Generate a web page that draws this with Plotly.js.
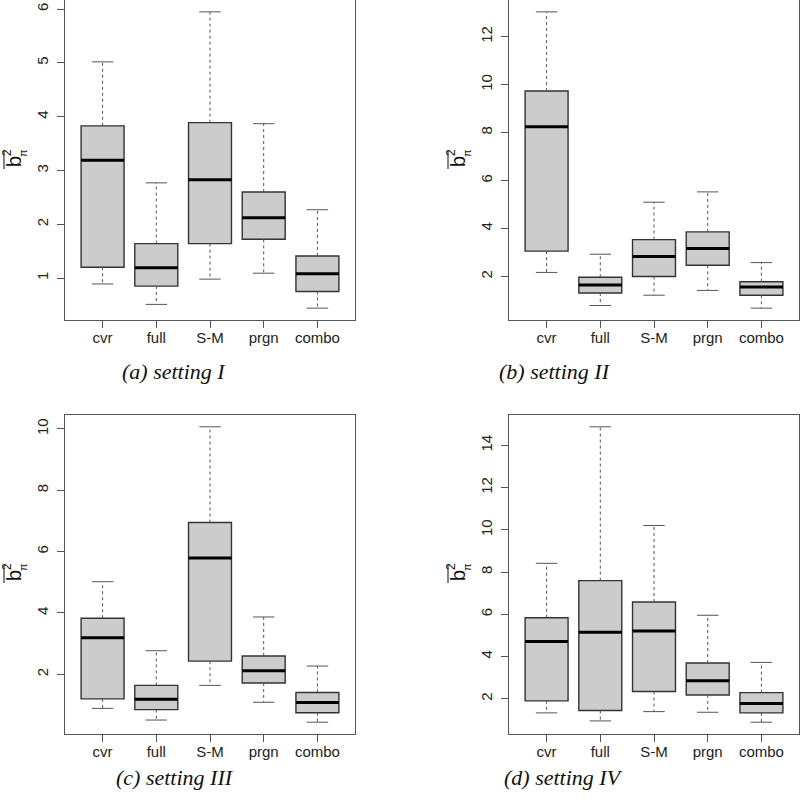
<!DOCTYPE html>
<html>
<head>
<meta charset="utf-8">
<script src="https://cdn.plot.ly/plotly-3.0.1.min.js"></script>
<style>html,body{margin:0;padding:0;background:#fff;}#chart{width:800px;height:809px;}</style>
</head>
<body>
<div id="chart"></div>
<script>
// ---- data ----
const categories = ['cvr', 'full', 'S-M', 'prgn', 'combo'];
const captions = ['(a) setting I', '(b) setting II', '(c) setting III', '(d) setting IV'];

const setI_lower  = [0.89, 0.51, 0.98, 1.09, 0.44];
const setI_q1     = [1.20, 0.85, 1.64, 1.72, 0.75];
const setI_median = [3.19, 1.19, 2.83, 2.12, 1.08];
const setI_q3     = [3.83, 1.64, 3.89, 2.60, 1.41];
const setI_upper  = [5.02, 2.77, 5.95, 3.87, 2.27];

const setII_lower  = [2.17, 0.79, 1.22, 1.42, 0.68];
const setII_q1     = [3.06, 1.31, 2.00, 2.47, 1.22];
const setII_median = [8.25, 1.65, 2.83, 3.17, 1.56];
const setII_q3     = [9.74, 1.97, 3.54, 3.86, 1.78];
const setII_upper  = [13.04, 2.93, 5.10, 5.53, 2.58];

const setIII_lower  = [0.89, 0.51, 1.64, 1.09, 0.44];
const setIII_q1     = [1.20, 0.85, 2.43, 1.72, 0.75];
const setIII_median = [3.19, 1.19, 5.79, 2.12, 1.08];
const setIII_q3     = [3.83, 1.64, 6.95, 2.60, 1.41];
const setIII_upper  = [5.02, 2.77, 10.07, 3.87, 2.27];

const setIV_lower  = [1.34, 0.96, 1.40, 1.37, 0.90];
const setIV_q1     = [1.91, 1.45, 2.35, 2.19, 1.34];
const setIV_median = [4.72, 5.16, 5.22, 2.86, 1.78];
const setIV_q3     = [5.84, 7.60, 6.59, 3.70, 2.30];
const setIV_upper  = [8.42, 14.88, 10.21, 5.96, 3.73];

const tickValsI   = [1, 2, 3, 4, 5, 6];
const tickValsII  = [2, 4, 6, 8, 10, 12];
const tickValsIII = [2, 4, 6, 8, 10];
const tickValsIV  = [2, 4, 6, 8, 10, 12, 14];

// ---- layout helpers ----
const W = 800, H = 809;
const px = v => v / W;
const py = v => 1 - v / H;

const panels = [
  {lower: setI_lower, q1: setI_q1, med: setI_median, q3: setI_q3, upper: setI_upper, ticks: tickValsI,
   box: [65, 355, 0, 320], cap: [174, 371], lab: [0, 161]},
  {lower: setII_lower, q1: setII_q1, med: setII_median, q3: setII_q3, upper: setII_upper, ticks: tickValsII,
   box: [509, 799, 0, 320], cap: [555, 371], lab: [444, 161]},
  {lower: setIII_lower, q1: setIII_q1, med: setIII_median, q3: setIII_q3, upper: setIII_upper, ticks: tickValsIII,
   box: [65, 355, 415, 734], cap: [175, 777], lab: [0, 575]},
  {lower: setIV_lower, q1: setIV_q1, med: setIV_median, q3: setIV_q3, upper: setIV_upper, ticks: tickValsIV,
   box: [509, 799, 415, 734], cap: [563, 777], lab: [444, 575]}
];

const pos = categories.map((c, i) => i + 1);
const boxW = 0.8, capW = 0.4;
const traces = [];
const layout = {
  width: W, height: H,
  margin: {l: 0, r: 0, t: 0, b: 0},
  paper_bgcolor: '#ffffff', plot_bgcolor: '#ffffff',
  showlegend: false,
  font: {family: 'Liberation Sans, Arial, sans-serif', size: 15, color: '#222'},
  annotations: [], shapes: []
};

panels.forEach((p, k) => {
  const n = k === 0 ? '' : String(k + 1);
  const xa = 'x' + n, ya = 'y' + n;
  // box body (no whiskers; R-style whiskers drawn below)
  traces.push({
    type: 'box', xaxis: xa, yaxis: ya, x: pos,
    q1: p.q1, median: p.med, q3: p.q3, lowerfence: p.q1, upperfence: p.q3,
    width: boxW, whiskerwidth: 0, boxpoints: false,
    fillcolor: '#cccccc', line: {color: '#333', width: 1.4}, hoverinfo: 'skip'
  });
  // dashed whiskers
  const wx = [], wy = [];
  pos.forEach((x, i) => {
    wx.push(x, x, null, x, x, null);
    wy.push(p.q3[i], p.upper[i], null, p.q1[i], p.lower[i], null);
  });
  traces.push({type: 'scatter', mode: 'lines', xaxis: xa, yaxis: ya, x: wx, y: wy,
    line: {color: '#555', width: 1, dash: '3px,3px'}, hoverinfo: 'skip'});
  // staples
  const sx = [], sy = [];
  pos.forEach((x, i) => {
    sx.push(x - capW / 2, x + capW / 2, null, x - capW / 2, x + capW / 2, null);
    sy.push(p.upper[i], p.upper[i], null, p.lower[i], p.lower[i], null);
  });
  traces.push({type: 'scatter', mode: 'lines', xaxis: xa, yaxis: ya, x: sx, y: sy,
    line: {color: '#555', width: 1}, hoverinfo: 'skip'});
  // thick medians
  const mx = [], my = [];
  pos.forEach((x, i) => {
    mx.push(x - boxW / 2, x + boxW / 2, null);
    my.push(p.med[i], p.med[i], null);
  });
  traces.push({type: 'scatter', mode: 'lines', xaxis: xa, yaxis: ya, x: mx, y: my,
    line: {color: '#000', width: 3}, hoverinfo: 'skip'});

  // R-style range: data range extended by 4%
  const lo = Math.min(...p.lower), hi = Math.max(...p.upper);
  const pad = 0.04 * (hi - lo);
  const [x0, x1, y0, y1] = p.box;
  const axCommon = {showline: true, mirror: true, linecolor: '#555', linewidth: 1,
    ticks: 'outside', ticklen: 7, tickcolor: '#555', tickwidth: 1,
    showgrid: false, zeroline: false, fixedrange: true,
    tickfont: {family: 'Liberation Sans, Arial, sans-serif', size: 15, color: '#222'}};
  layout['xaxis' + n] = Object.assign({}, axCommon, {
    domain: [px(x0), px(x1)], anchor: ya, range: [0.3, 5.7],
    tickmode: 'array', tickvals: pos, ticktext: categories, ticklabelstandoff: -3
  });
  layout['yaxis' + n] = Object.assign({}, axCommon, {
    domain: [py(y1), py(y0)], anchor: xa, range: [lo - pad, hi + pad],
    tickmode: 'array', tickvals: p.ticks, tickangle: -90, ticklabelstandoff: 3
  });

  // caption
  layout.annotations.push({xref: 'paper', yref: 'paper', x: px(p.cap[0]), y: py(p.cap[1]),
    xanchor: 'center', yanchor: 'middle', showarrow: false,
    text: '<i>' + captions[k] + '</i>',
    font: {family: 'Liberation Serif, Times New Roman, serif', size: 22, color: '#111'}});

  // y-axis label: overline b, superscript 2, subscript pi (rotated)
  const [lx, ly] = p.lab;
  layout.annotations.push({xref: 'paper', yref: 'paper', x: px(lx + 14), y: py(ly + 1),
    xanchor: 'center', yanchor: 'middle', showarrow: false, textangle: -90,
    text: 'b', font: {family: 'Liberation Sans, Arial, sans-serif', size: 20, color: '#111'}});
  layout.annotations.push({xref: 'paper', yref: 'paper', x: px(lx + 7), y: py(ly - 8),
    xanchor: 'center', yanchor: 'middle', showarrow: false, textangle: -90,
    text: '2', font: {family: 'Liberation Sans, Arial, sans-serif', size: 12, color: '#111'}});
  layout.annotations.push({xref: 'paper', yref: 'paper', x: px(lx + 23), y: py(ly - 8),
    xanchor: 'center', yanchor: 'middle', showarrow: false, textangle: -90,
    text: 'π', font: {family: 'Liberation Sans, Arial, sans-serif', size: 11, color: '#111'}});
  layout.shapes.push({type: 'line', xref: 'paper', yref: 'paper',
    x0: px(lx + 4), x1: px(lx + 4), y0: py(ly - 10), y1: py(ly + 8),
    line: {color: '#333', width: 1.2}});
});

Plotly.newPlot('chart', traces, layout, {staticPlot: true, displayModeBar: false});
</script>
</body>
</html>
